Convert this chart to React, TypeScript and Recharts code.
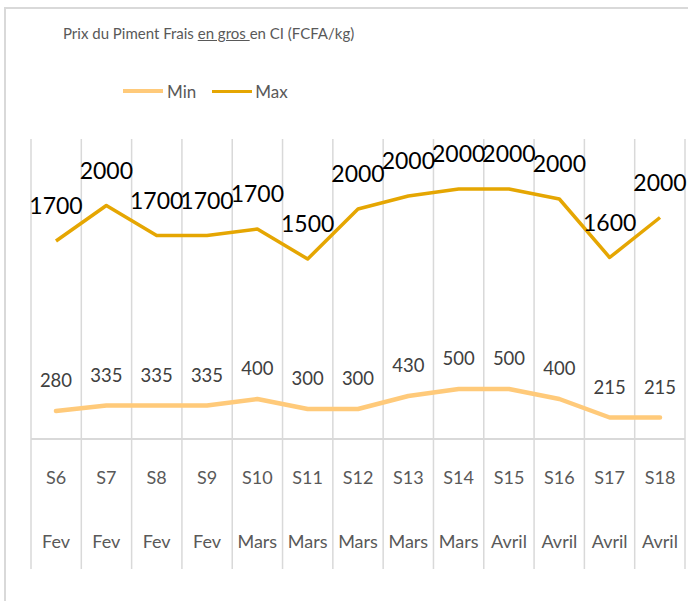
import {
  Area,
  AreaChart,
  CartesianGrid,
  LabelList,
  ReferenceLine,
  XAxis,
  YAxis,
} from "recharts";

const weeks = ["S6", "S7", "S8", "S9", "S10", "S11", "S12", "S13", "S14", "S15", "S16", "S17", "S18"];
const months = ["Fev", "Fev", "Fev", "Fev", "Mars", "Mars", "Mars", "Mars", "Mars", "Avril", "Avril", "Avril", "Avril"];
const minPrices = [280, 335, 335, 335, 400, 300, 300, 430, 500, 500, 400, 215, 215];
const maxPrices = [1700, 2000, 1700, 1700, 1700, 1500, 2000, 2000, 2000, 2000, 2000, 1600, 2000];

const COLORS = {
  min: "#FFCA7A",
  max: "#E5A602",
  grid: "#D9D9D9",
  text: "#595959",
};
const FONT = "Lato, 'Open Sans', sans-serif";

// Excel draws the two series stacked: Max sits on top of Min
const data = weeks.map((week, i) => ({
  week,
  month: months[i],
  min: minPrices[i],
  max: maxPrices[i],
}));

function CategoryTick({ x, y, payload, index }: any) {
  const i = payload?.index ?? index ?? 0;
  return (
    <g>
      <text
        x={x}
        y={y - 92}
        textAnchor="middle"
        dominantBaseline="central"
        fontFamily={FONT}
        fontSize={18}
        fill={COLORS.text}
      >
        {payload.value}
      </text>
      <text
        x={x}
        y={y - 28}
        textAnchor="middle"
        dominantBaseline="central"
        fontFamily={FONT}
        fontSize={18}
        fill={COLORS.text}
      >
        {months[i]}
      </text>
    </g>
  );
}

// grid lines sit between categories, not through them
const gridBetweenCategories = ({ xAxis, offset }: any) => {
  const scale = xAxis?.scale;
  if (scale && typeof scale.step === "function") {
    const half = scale.step() / 2;
    return [...weeks.map((w) => scale(w) - half), scale(weeks[weeks.length - 1]) + half];
  }
  const w = offset.width / weeks.length;
  return Array.from({ length: weeks.length + 1 }, (_, i) => offset.left + i * w);
};

export default function App() {
  return (
    <div
      style={{
        position: "absolute",
        left: 0,
        top: 0,
        width: 688,
        height: 601,
        overflow: "hidden",
        background: "#fff",
        fontFamily: FONT,
      }}
    >
      <div
        style={{
          position: "absolute",
          left: 4,
          top: 7,
          width: 720,
          height: 700,
          border: `2px solid ${COLORS.grid}`,
        }}
      />
      <div
        style={{
          position: "absolute",
          left: 63,
          top: 23,
          fontSize: 15,
          lineHeight: "20px",
          color: COLORS.text,
          whiteSpace: "nowrap",
        }}
      >
        Prix du Piment Frais <span style={{ textDecoration: "underline" }}>en gros </span>en CI (FCFA/kg)
      </div>
      <div
        style={{
          position: "absolute",
          left: 123,
          top: 80,
          height: 22,
          display: "flex",
          alignItems: "center",
          fontSize: 17,
          color: COLORS.text,
        }}
      >
        <span style={{ width: 40, height: 4, background: COLORS.min, display: "inline-block", marginRight: 4 }} />
        <span style={{ marginRight: 16 }}>Min</span>
        <span style={{ width: 40, height: 3, background: COLORS.max, display: "inline-block", marginRight: 3 }} />
        <span>Max</span>
      </div>
      <div style={{ position: "absolute", left: 0, top: 0 }}>
        <AreaChart
          width={688}
          height={601}
          data={data}
          margin={{ top: 139, right: 3, bottom: 31, left: 31 }}
        >
          <CartesianGrid
            horizontal={false}
            stroke={COLORS.grid}
            strokeWidth={1.5}
            verticalCoordinatesGenerator={gridBetweenCategories}
          />
          <XAxis
            dataKey="week"
            height={1}
            padding={{ left: 25, right: 25 }}
            axisLine={false}
            tickLine={false}
            tickSize={0}
            tickMargin={0}
            interval={0}
            tick={(props: any) => <CategoryTick {...props} />}
          />
          <YAxis hide domain={[-1300, 3000]} />
          <ReferenceLine y={0} stroke={COLORS.grid} strokeWidth={2} />
          <Area
            type="linear"
            dataKey="min"
            stackId="prix"
            stroke={COLORS.min}
            strokeWidth={4.5}
            strokeLinecap="round"
            strokeLinejoin="round"
            fill="none"
            fillOpacity={0}
            dot={false}
            activeDot={false}
            isAnimationActive={false}
          >
            <LabelList
              dataKey="min"
              position="top"
              offset={24}
              fill="#404040"
              fontSize={18.5}
              fontFamily={FONT}
            />
          </Area>
          <Area
            type="linear"
            dataKey="max"
            stackId="prix"
            stroke={COLORS.max}
            strokeWidth={3.5}
            strokeLinejoin="round"
            fill="none"
            fillOpacity={0}
            dot={false}
            activeDot={false}
            isAnimationActive={false}
          >
            <LabelList
              dataKey="max"
              position="top"
              offset={27}
              fill="#000"
              fontSize={23}
              fontFamily={FONT}
            />
          </Area>
        </AreaChart>
      </div>
    </div>
  );
}
